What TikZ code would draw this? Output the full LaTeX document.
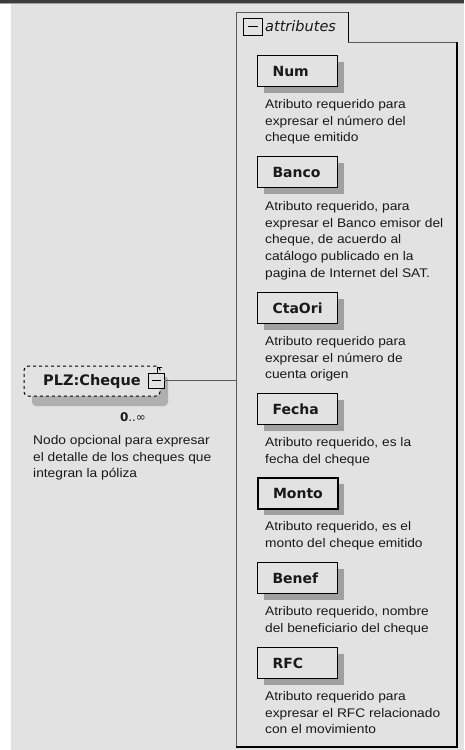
\documentclass[tikz,border=0pt]{standalone}
\usepackage{fontspec}
\setmainfont{DejaVu Sans}
\newfontfamily\descfont[FakeStretch=1.1]{Liberation Sans}
\usetikzlibrary{shadows,calc}
\definecolor{bgc}{RGB}{226,226,226}
\definecolor{shc}{RGB}{160,160,160}
\definecolor{shl}{RGB}{175,175,175}
\definecolor{topbar}{RGB}{60,60,60}
\definecolor{txt}{RGB}{25,25,25}
\definecolor{edge}{RGB}{90,90,90}
\tikzset{
  attrbox/.style={draw=black, line width=1.1pt, fill=bgc, anchor=north west,
    minimum width=80pt, minimum height=31pt, text width=50pt, inner xsep=15pt,
    inner ysep=0pt, align=left, text=txt, font=\bfseries\fontsize{14}{16}\selectfont,
    drop shadow={shadow xshift=6pt, shadow yshift=-6pt, fill=shc, opacity=1}},
  desc/.style={anchor=north west, inner sep=0pt, align=left, text=txt,
    font=\descfont\fontsize{12.5}{16.8}\selectfont},
  minusbox/.style={draw=black, line width=0.9pt, fill=bgc, minimum width=16pt,
    minimum height=15pt, inner sep=0pt},
  conn/.style={draw=edge, line width=0.8pt}
}
\begin{document}
\begin{tikzpicture}[x=1pt,y=-1pt]
\useasboundingbox (0,0) rectangle (464,750);
% background
\fill[white] (0,0) rectangle (464,750);
\fill[bgc] (11,4) rectangle (464,750);
\fill[topbar] (0,0) rectangle (464,2.5);
\fill[shc] (0,2.5) rectangle (464,4);
% attributes group
\draw[draw=edge, line width=0.9pt, fill=bgc] (236,747) -- (236,12) -- (348,12) -- (348,42) -- (457,42) -- (457,747) -- cycle;
\draw[black, line width=1.8pt] (457,42) -- (457,747) -- (236,747);
\draw[black, line width=1pt] (348,12) -- (348,42);
\coordinate (grpL) at (236,380.5);
\node[minusbox, minimum width=19pt, minimum height=17pt] (tabm) at (253,26.5) {};
\draw[black, line width=1pt] ($(tabm.center)+(-5,0)$) -- ($(tabm.center)+(5,0)$);
\node[anchor=west, inner sep=0pt, text=txt, font=\itshape\fontsize{14.5}{16}\selectfont] (tabt) at (265,26) {attributes};
% attribute boxes
\node[attrbox] (num) at (257,55) {Num};
\node[desc] (numd) at (265,99) {Atributo requerido para\\expresar el número del\\cheque emitido};
\node[attrbox] (banco) at (257,156) {Banco};
\node[desc] (bancod) at (265,201) {Atributo requerido, para\\expresar el Banco emisor del\\cheque, de acuerdo al\\catálogo publicado en la\\pagina de Internet del SAT.};
\node[attrbox] (cta) at (257,292) {CtaOri};
\node[desc] (ctad) at (265,336) {Atributo requerido para\\expresar el número de\\cuenta origen};
\node[attrbox] (fecha) at (257,393) {Fecha};
\node[desc] (fechad) at (265,437) {Atributo requerido, es la\\fecha del cheque};
\node[attrbox, line width=2pt] (monto) at (257,477) {Monto};
\node[desc] (montod) at (265,521) {Atributo requerido, es el\\monto del cheque emitido};
\node[attrbox] (benef) at (257,562) {Benef};
\node[desc] (benefd) at (265,606) {Atributo requerido, nombre\\del beneficiario del cheque};
\node[attrbox] (rfc) at (257,647) {RFC};
\node[desc] (rfcd) at (265,691) {Atributo requerido para\\expresar el RFC relacionado\\con el movimiento};
% PLZ:Cheque element
\fill[shl, rounded corners=4pt] (32,376) rectangle (168,406);
\node[draw=black, dashed, line width=1pt, fill=bgc, rounded corners=4pt, minimum width=136pt,
  minimum height=30pt, inner sep=0pt, text=txt, font=\bfseries\fontsize{14.5}{16}\selectfont] (plz) at (92,381) {PLZ:Cheque\hspace{14pt}};
\node[minusbox] (plzm) at (156,380.5) {};
\draw[black, line width=0.9pt] ($(plzm.center)+(-4.5,0)$) -- ($(plzm.center)+(4.5,0)$);
\draw[black, line width=0.9pt] ($(plzm.north)+(1,0)$) -- ($(plzm.north)+(1,-5)$) -- ($(plzm.north)+(6,-5)$);
\draw[conn] (plzm.east) -- (grpL);
\node[inner sep=0pt, text=txt, font=\fontsize{12}{14}\selectfont] (card) at (133,417) {\textbf{0}..∞};
\node[desc] (plzd) at (33,435) {Nodo opcional para expresar\\el detalle de los cheques que\\integran la póliza};
\end{tikzpicture}
\end{document}
